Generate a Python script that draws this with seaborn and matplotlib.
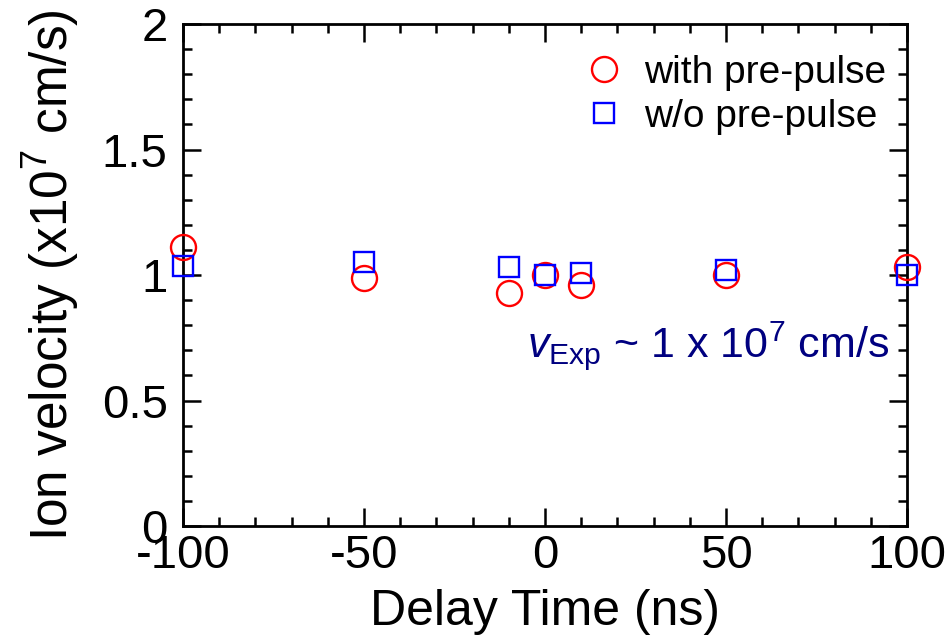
import matplotlib
matplotlib.use("Agg")
import matplotlib.pyplot as plt
import seaborn as sns
import pandas as pd
from matplotlib.ticker import MultipleLocator

delay_ns = [-100, -50, -10, 0, 10, 50, 100]
with_prepulse = [1.11, 0.99, 0.93, 1.00, 0.96, 1.00, 1.03]
without_prepulse = [1.035, 1.05, 1.03, 1.00, 1.01, 1.02, 1.00]
series_names = ["with pre-pulse", "w/o pre-pulse"]
x_ticks = [-100, -50, 0, 50, 100]
y_ticks = [0, 0.5, 1, 1.5, 2]
y_tick_labels = ["0", "0.5", "1", "1.5", "2"]

sns.set_style("ticks")
plt.rcParams["font.family"] = ["Liberation Sans", "DejaVu Sans"]
plt.rcParams["mathtext.fontset"] = "custom"
plt.rcParams["mathtext.rm"] = "Liberation Sans"
plt.rcParams["mathtext.it"] = "Liberation Sans:italic"
plt.rcParams["mathtext.default"] = "regular"
for k in ["text.color", "axes.labelcolor", "xtick.color", "ytick.color", "axes.edgecolor"]:
    plt.rcParams[k] = "black"

fig = plt.figure(figsize=(9.52, 6.39), dpi=100)
ax = fig.add_axes([0.1922, 0.1768, 0.7605, 0.7856])

df1 = pd.DataFrame({"x": delay_ns, "y": with_prepulse})
df2 = pd.DataFrame({"x": delay_ns, "y": without_prepulse})

sns.lineplot(data=df1, x="x", y="y", ax=ax, linestyle="", marker="o",
             markersize=18, mfc="none", mec="#ff0000", mew=1.7,
             color="#ff0000", label=series_names[0], zorder=3, clip_on=False)
sns.lineplot(data=df2, x="x", y="y", ax=ax, linestyle="", marker="s",
             markersize=14.5, mfc="none", mec="#0000ff", mew=1.7,
             color="#0000ff", label=series_names[1], zorder=4, clip_on=False)

ax.set_xlim(-100, 100)
ax.set_ylim(0, 2)
ax.set_xticks(x_ticks)
ax.set_xticklabels([str(t) for t in x_ticks])
ax.set_yticks(y_ticks)
ax.set_yticklabels(y_tick_labels)
ax.xaxis.set_minor_locator(MultipleLocator(10))
ax.yaxis.set_minor_locator(MultipleLocator(0.1))
ax.tick_params(which="major", direction="in", length=13, width=1.8,
               top=True, right=True, labelsize=34)
ax.tick_params(axis="x", which="major", pad=6)
ax.tick_params(axis="y", which="major", pad=11)
ax.tick_params(which="minor", direction="in", length=6.5, width=1.8,
               top=True, right=True)
for s in ax.spines.values():
    s.set_linewidth(2.0)
    s.set_visible(True)

ax.set_xlabel("Delay Time (ns)", fontsize=36, labelpad=8)
ax.set_ylabel("Ion velocity (x10$^{7}$ cm/s)", fontsize=37, labelpad=14)

ax.text(95, 0.673, r"$\mathit{v}_{\mathrm{Exp}}$ ~ 1 x 10$^{7}$ cm/s",
        color="#000080", fontsize=31, ha="right", va="baseline",
        transform=ax.transData)

leg = ax.legend(loc="upper right", frameon=False, fontsize=28,
                handletextpad=0.27, borderaxespad=0.2, labelspacing=0.2,
                handlelength=1.5, bbox_to_anchor=(1.003, 0.985))

fig.savefig("out.png", dpi=100)
